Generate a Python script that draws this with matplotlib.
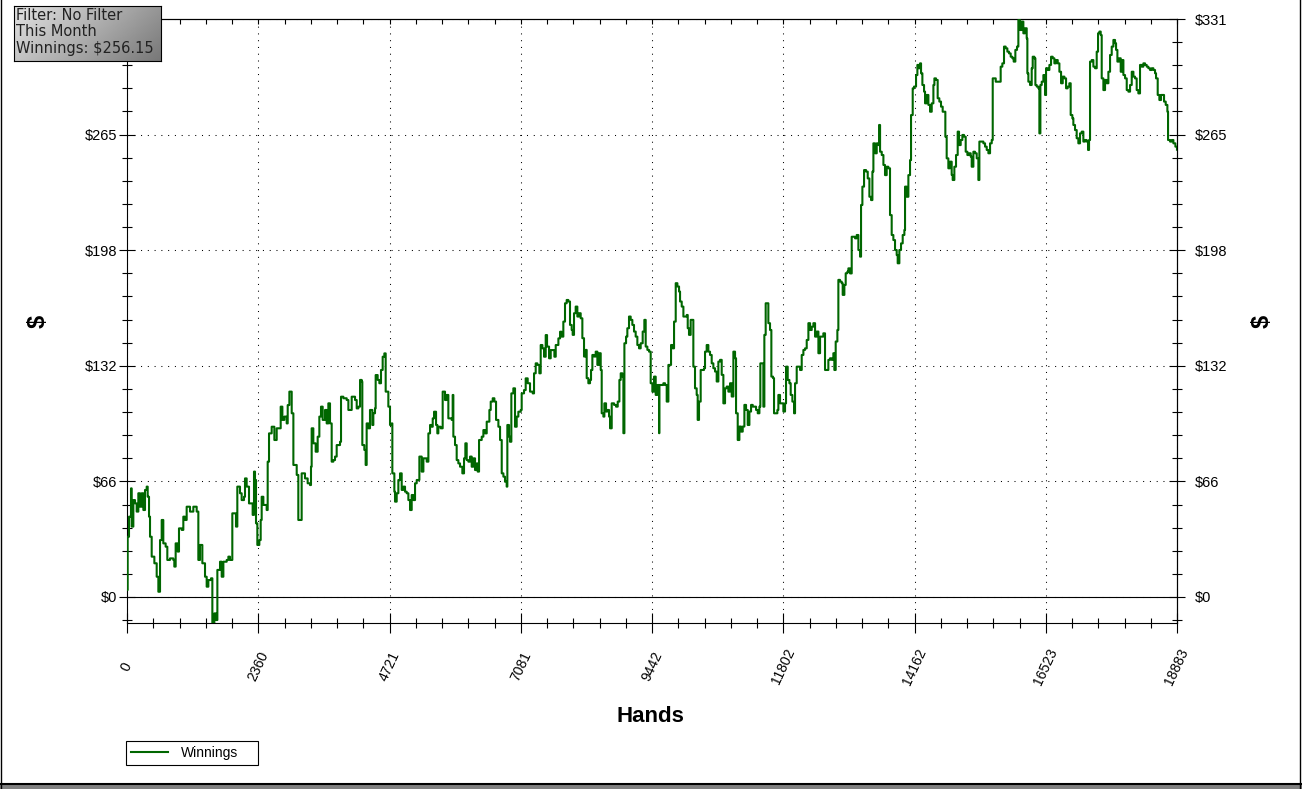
import numpy as np
import matplotlib
matplotlib.use('Agg')
import matplotlib.pyplot as plt
from matplotlib.lines import Line2D
from matplotlib.patches import Rectangle
from matplotlib.ticker import FixedLocator

plt.rcParams['font.family'] = ['Liberation Sans', 'DejaVu Sans']

# cumulative winnings (hand number, dollars)
hands = [0, 12, 36, 72, 84, 114, 144, 174, 204, 234, 264, 294, 324, 354, 372, 396, 414, 444, 492, 534,
         564, 594, 624, 653, 695, 725, 773, 833, 851, 875, 911, 935, 983, 1013, 1043, 1073, 1133, 1193, 1253, 1283,
         1313, 1355, 1403, 1433, 1463, 1511, 1535, 1571, 1601, 1625, 1673, 1703, 1733, 1793, 1823, 1852, 1882, 1894, 1942, 1960,
         1984, 2032, 2062, 2104, 2122, 2152, 2194, 2242, 2260, 2284, 2302, 2320, 2344, 2380, 2404, 2422, 2452, 2512, 2530, 2554,
         2602, 2650, 2692, 2734, 2764, 2794, 2830, 2872, 2890, 2920, 2962, 2992, 3052, 3081, 3111, 3141, 3201, 3249, 3291, 3309,
         3321, 3351, 3393, 3429, 3459, 3489, 3519, 3561, 3591, 3621, 3651, 3681, 3711, 3741, 3771, 3831, 3849, 3891, 3951, 3981,
         4011, 4041, 4101, 4131, 4161, 4191, 4221, 4232, 4268, 4292, 4310, 4340, 4370, 4412, 4430, 4460, 4472, 4508, 4538, 4568,
         4598, 4628, 4652, 4700, 4730, 4760, 4772, 4808, 4820, 4850, 4880, 4910, 4940, 4970, 5000, 5030, 5060, 5090, 5120, 5150,
         5180, 5210, 5258, 5300, 5330, 5390, 5420, 5450, 5480, 5498, 5522, 5558, 5581, 5599, 5641, 5677, 5719, 5749, 5779, 5839,
         5857, 5869, 5899, 5929, 5959, 5989, 6031, 6061, 6085, 6109, 6139, 6169, 6199, 6229, 6259, 6289, 6307, 6331, 6379, 6409,
         6439, 6469, 6517, 6541, 6577, 6607, 6637, 6679, 6709, 6739, 6769, 6798, 6828, 6840, 6870, 6888, 6912, 6948, 6978, 7008,
         7038, 7080, 7098, 7140, 7170, 7206, 7248, 7296, 7320, 7350, 7380, 7416, 7440, 7470, 7500, 7530, 7554, 7590, 7620, 7656,
         7686, 7710, 7758, 7788, 7817, 7847, 7877, 7907, 7937, 7967, 7997, 8015, 8039, 8069, 8099, 8129, 8159, 8189, 8219, 8249,
         8267, 8297, 8327, 8345, 8369, 8399, 8429, 8459, 8489, 8519, 8537, 8567, 8585, 8615, 8639, 8669, 8687, 8717, 8759, 8795,
         8825, 8855, 8879, 8909, 8927, 8945, 8975, 8998, 9028, 9058, 9088, 9118, 9148, 9178, 9208, 9238, 9274, 9304, 9328, 9358,
         9388, 9418, 9448, 9478, 9508, 9538, 9568, 9574, 9616, 9646, 9676, 9706, 9736, 9766, 9784, 9814, 9838, 9868, 9898, 9928,
         9946, 9976, 10006, 10036, 10066, 10084, 10107, 10137, 10167, 10185, 10215, 10245, 10263, 10287, 10317, 10347, 10377, 10395, 10425, 10455,
         10485, 10515, 10545, 10575, 10605, 10635, 10665, 10695, 10725, 10755, 10785, 10815, 10845, 10875, 10905, 10935, 10953, 10983, 11013, 11043,
         11073, 11103, 11133, 11163, 11193, 11223, 11253, 11283, 11313, 11343, 11373, 11390, 11414, 11444, 11462, 11486, 11510, 11534, 11564, 11588,
         11618, 11636, 11666, 11696, 11714, 11744, 11774, 11804, 11834, 11852, 11882, 11912, 11936, 11966, 11996, 12014, 12044, 12074, 12104, 12134,
         12164, 12194, 12224, 12254, 12284, 12314, 12344, 12374, 12404, 12434, 12464, 12494, 12523, 12553, 12583, 12613, 12643, 12673, 12703, 12721,
         12745, 12775, 12793, 12823, 12853, 12871, 12901, 12925, 12955, 12973, 13003, 13033, 13063, 13093, 13123, 13153, 13183, 13201, 13225, 13255,
         13291, 13321, 13351, 13381, 13405, 13423, 13453, 13483, 13513, 13525, 13543, 13573, 13603, 13632, 13662, 13692, 13722, 13752, 13782, 13812,
         13842, 13860, 13890, 13920, 13950, 13980, 13992, 14022, 14052, 14082, 14100, 14130, 14154, 14190, 14214, 14238, 14262, 14280, 14304, 14334,
         14352, 14382, 14412, 14442, 14472, 14502, 14520, 14549, 14579, 14609, 14639, 14669, 14699, 14717, 14741, 14771, 14801, 14831, 14849, 14879,
         14909, 14939, 14963, 14993, 15023, 15053, 15083, 15113, 15143, 15173, 15191, 15221, 15251, 15281, 15311, 15329, 15371, 15401, 15431, 15461,
         15491, 15521, 15551, 15569, 15599, 15623, 15653, 15683, 15712, 15742, 15772, 15802, 15832, 15862, 15892, 15922, 15946, 15976, 16006, 16030,
         16060, 16090, 16120, 16150, 16180, 16192, 16210, 16240, 16270, 16288, 16318, 16336, 16360, 16390, 16408, 16426, 16450, 16480, 16510, 16528,
         16558, 16588, 16618, 16648, 16678, 16708, 16738, 16768, 16798, 16828, 16858, 16888, 16917, 16947, 16971, 17001, 17019, 17049, 17079, 17109,
         17139, 17169, 17199, 17229, 17259, 17283, 17301, 17319, 17349, 17379, 17409, 17439, 17463, 17487, 17511, 17529, 17559, 17589, 17619, 17649,
         17679, 17709, 17739, 17769, 17787, 17811, 17841, 17871, 17901, 17919, 17949, 17979, 18009, 18039, 18069, 18099, 18128, 18158, 18188, 18218,
         18248, 18278, 18308, 18338, 18368, 18398, 18428, 18458, 18488, 18506, 18536, 18566, 18596, 18626, 18650, 18680, 18710, 18722, 18758, 18788,
         18818, 18854, 18883]

winnings = [4.0, 34.5, 46.0, 62.2, 40.3, 55.5, 53.6, 48.9, 59.4, 51.7, 59.4, 49.8, 61.3, 63.2, 57.4, 46.0, 34.5, 23.1, 19.3, 11.6,
            3.0, 32.6, 44.1, 30.7, 28.8, 21.2, 22.1, 21.2, 17.4, 30.7, 26.0, 39.3, 38.4, 46.0, 44.1, 51.7, 48.9, 51.7, 48.9, 21.2,
            29.8, 19.3, 11.6, 5.9, 9.7, 10.7, -15.1, -9.4, -13.2, 15.5, 20.2, 11.6, 20.2, 21.2, 23.1, 21.2, 21.2, 47.9, 47.9, 40.3,
            63.2, 59.4, 55.5, 57.4, 67.9, 63.2, 53.6, 53.6, 47.0, 71.8, 67.0, 42.2, 29.8, 32.6, 44.1, 57.4, 52.7, 49.8, 77.5, 93.7,
            97.5, 89.9, 96.6, 96.6, 109.0, 101.4, 103.3, 99.4, 109.9, 117.6, 105.2, 75.6, 69.9, 44.1, 44.1, 70.8, 67.9, 65.1, 64.1, 74.6,
            96.6, 88.0, 83.2, 91.8, 103.3, 109.0, 101.4, 107.1, 99.4, 110.9, 99.4, 77.5, 78.4, 80.4, 87.0, 88.9, 114.7, 113.8, 112.8, 107.1,
            107.1, 114.7, 112.8, 108.0, 109.0, 124.3, 123.3, 87.0, 84.2, 75.6, 99.4, 96.6, 107.1, 98.5, 105.2, 108.0, 127.1, 124.3, 122.4, 130.0,
            137.6, 139.5, 117.6, 109.0, 98.5, 99.4, 70.8, 60.3, 54.6, 59.4, 67.0, 70.8, 61.3, 63.2, 60.3, 59.4, 55.5, 49.8, 58.4, 55.5,
            65.1, 67.0, 80.4, 71.8, 79.4, 77.5, 93.7, 98.5, 97.5, 102.3, 106.1, 98.5, 93.7, 97.5, 96.6, 117.6, 112.8, 115.7, 102.3, 101.4,
            115.7, 91.8, 87.0, 78.4, 76.5, 74.6, 70.8, 79.4, 88.0, 78.4, 77.5, 80.4, 74.6, 79.4, 72.7, 76.5, 71.8, 89.9, 91.8, 95.6,
            93.7, 100.4, 107.1, 111.9, 113.8, 111.9, 101.4, 97.5, 89.9, 70.8, 68.9, 66.0, 63.2, 98.5, 91.8, 88.9, 116.6, 119.5, 97.5, 103.3,
            106.1, 107.1, 116.6, 118.5, 125.2, 122.4, 117.6, 116.6, 128.1, 133.8, 132.9, 128.1, 144.3, 142.4, 137.6, 150.0, 143.4, 136.7, 141.4, 141.4,
            137.6, 144.3, 148.1, 151.9, 149.1, 157.7, 168.2, 170.1, 169.2, 155.8, 152.9, 150.1, 162.5, 166.3, 160.6, 162.5, 159.6, 148.2, 137.7, 141.5,
            125.3, 122.4, 124.3, 130.0, 138.6, 137.7, 140.5, 132.9, 139.6, 130.0, 105.2, 103.3, 110.9, 106.2, 107.1, 103.3, 96.6, 110.9, 110.0, 109.0,
            111.9, 124.3, 128.1, 126.2, 93.8, 145.3, 149.1, 153.9, 160.6, 158.7, 155.8, 152.0, 149.1, 144.3, 142.4, 145.3, 152.0, 158.7, 143.4, 141.5,
            140.5, 122.4, 117.6, 126.2, 115.7, 121.4, 93.8, 121.4, 121.4, 122.4, 121.4, 111.9, 132.9, 132.9, 144.3, 142.4, 157.7, 179.7, 177.8, 174.9,
            169.2, 166.3, 160.6, 160.6, 161.5, 153.9, 150.1, 158.7, 158.7, 131.9, 119.5, 115.7, 101.4, 111.9, 130.0, 130.0, 131.0, 140.5, 144.3, 140.5,
            138.6, 133.8, 131.0, 129.1, 123.4, 134.8, 135.8, 127.2, 110.9, 119.5, 120.5, 117.6, 122.4, 114.8, 140.5, 136.7, 105.2, 89.9, 97.6, 94.7,
            97.6, 110.0, 107.1, 98.5, 106.2, 110.0, 109.0, 109.0, 107.1, 105.2, 109.0, 133.8, 133.8, 109.0, 150.1, 168.2, 168.2, 156.8, 152.9, 126.2,
            125.3, 105.2, 105.2, 107.1, 115.7, 110.9, 110.9, 106.2, 110.9, 131.9, 124.3, 122.4, 115.7, 111.9, 105.2, 122.4, 131.9, 131.9, 130.0, 138.6,
            141.5, 142.4, 147.2, 156.8, 152.9, 154.8, 156.8, 149.1, 152.0, 139.6, 149.1, 149.1, 151.0, 130.0, 130.0, 135.8, 136.7, 135.8, 139.6, 130.0,
            146.3, 152.9, 181.6, 180.6, 179.7, 173.0, 178.7, 185.4, 186.3, 188.2, 185.3, 206.3, 206.3, 205.4, 207.3, 198.7, 194.9, 224.5, 235.0, 244.5,
            243.6, 239.7, 229.2, 227.3, 243.6, 259.8, 254.1, 259.8, 258.8, 270.3, 255.0, 253.1, 247.4, 241.6, 246.4, 245.5, 218.7, 207.3, 204.4, 198.7,
            195.8, 191.1, 198.7, 202.5, 207.3, 210.2, 235.0, 229.2, 241.6, 250.2, 276.0, 291.3, 292.3, 298.9, 304.7, 302.8, 305.6, 299.9, 293.2, 289.4,
            282.7, 287.5, 281.8, 277.9, 282.7, 293.2, 297.0, 296.1, 285.6, 283.7, 280.8, 277.9, 277.9, 263.6, 251.2, 245.5, 249.3, 241.7, 238.8, 246.4,
            253.1, 266.5, 258.8, 261.7, 264.6, 263.6, 255.0, 253.1, 254.1, 252.2, 246.4, 255.0, 254.1, 251.2, 238.8, 260.8, 260.8, 259.8, 257.9, 256.0,
            254.1, 259.8, 261.7, 297.0, 297.0, 295.1, 295.1, 295.1, 303.7, 305.6, 315.2, 314.2, 312.3, 311.3, 309.4, 308.5, 306.6, 313.3, 315.2, 330.4,
            324.7, 329.5, 322.8, 325.7, 319.9, 299.9, 295.1, 293.2, 302.8, 309.4, 308.5, 293.2, 292.3, 291.3, 265.5, 293.2, 295.1, 298.9, 287.5, 302.8,
            301.8, 304.7, 309.4, 308.5, 305.6, 307.5, 305.6, 300.8, 294.2, 298.0, 297.0, 291.3, 292.3, 294.2, 276.0, 274.1, 270.3, 267.4, 262.7, 259.8,
            265.5, 266.5, 260.8, 261.7, 260.8, 256.0, 261.7, 306.6, 307.5, 303.7, 302.8, 312.3, 322.8, 323.8, 321.8, 297.0, 290.3, 296.1, 294.2, 300.8,
            310.4, 315.2, 319.0, 317.1, 313.3, 306.6, 308.5, 300.8, 307.5, 298.9, 297.0, 290.3, 289.4, 293.2, 300.8, 298.0, 297.0, 290.3, 288.4, 304.7,
            303.7, 305.6, 304.7, 303.7, 302.8, 301.8, 302.8, 301.8, 299.9, 297.0, 287.5, 284.6, 287.5, 287.5, 283.7, 281.8, 277.9, 261.7, 260.8, 261.7,
            259.8, 257.9, 256.15]

total_hands = 18883
x_labels = ['0', '2360', '4721', '7081', '9442', '11802', '14162', '16523', '18883']
y_top = 331
y_labels = ['$0', '$66', '$132', '$198', '$265', '$331']
info_lines = ['Filter: No Filter', 'This Month', 'Winnings: $256.15']

W, H = 1302, 789
fig = plt.figure(figsize=(W / 100, H / 100), dpi=100)
ax = fig.add_axes([127 / W, 1 - 623 / H, 1050 / W, 604 / H])
ax.set_xlim(0, total_hands)
ax.set_ylim(-14.9, y_top)

line, = ax.plot(hands, winnings, color='#006600', lw=1.5, drawstyle='steps-post', zorder=3)
ax.axhline(0, color='black', lw=0.8, zorder=2)

xt = np.linspace(0, total_hands, len(x_labels))
xt_minor = np.linspace(0, total_hands, 5 * (len(x_labels) - 1) + 1)
yt = np.linspace(0, y_top, len(y_labels))
yt_minor = np.arange(-1, 26) * (y_top / 25)

ax.xaxis.set_major_locator(FixedLocator(xt))
ax.xaxis.set_minor_locator(FixedLocator(xt_minor))
ax.set_xticklabels(x_labels, rotation=65, ha='center', va='center', fontsize=10)
ax.yaxis.set_major_locator(FixedLocator(yt))
ax.yaxis.set_minor_locator(FixedLocator(yt_minor))
# the top-left label sits under the info box, so it is left blank
ax.set_yticklabels(y_labels[:-1] + [''], fontsize=10.5)

ax.tick_params(axis='x', which='major', direction='inout', length=14.4, width=0.8, pad=24)
ax.tick_params(axis='x', which='minor', direction='inout', length=7.2, width=0.8)
ax.tick_params(axis='y', which='major', direction='inout', length=12.2, width=0.8, pad=1)
ax.tick_params(axis='y', which='minor', direction='inout', length=7.2, width=0.8)
for s in ax.spines.values():
    s.set_linewidth(0.8)

ax.grid(True, which='major', color='black', lw=0.75, linestyle=(0, (1, 5.5)), zorder=1)

# top ticks (inward only) and right labels
secx = ax.secondary_xaxis('top')
secx.xaxis.set_major_locator(FixedLocator(xt))
secx.xaxis.set_minor_locator(FixedLocator(xt_minor))
secx.tick_params(which='both', direction='in', length=3.6, width=0.8, labeltop=False)
secx.spines['top'].set_linewidth(0.8)

secy = ax.secondary_yaxis('right')
secy.yaxis.set_major_locator(FixedLocator(yt))
secy.yaxis.set_minor_locator(FixedLocator(yt_minor))
secy.set_yticklabels(y_labels, fontsize=10.5)
secy.tick_params(which='major', direction='inout', length=12.2, width=0.8, pad=7)
secy.tick_params(which='minor', direction='inout', length=7.2, width=0.8)
secy.spines['right'].set_linewidth(0.8)

fig.text(650 / W, 1 - 717 / H, 'Hands', fontsize=16, fontweight='bold', ha='center', va='center')
fig.text(38 / W, 1 - 321 / H, '$', fontsize=17, fontweight='bold', rotation=90, ha='center', va='center')
fig.text(1262 / W, 1 - 321 / H, '$', fontsize=17, fontweight='bold', rotation=90, ha='center', va='center')

leg = fig.legend([line], ['Winnings'], loc='lower left', mode='expand',
                 bbox_to_anchor=(126 / W, 1 - 765 / H, 132 / W, 24 / H),
                 fancybox=False, edgecolor='black', framealpha=1, fontsize=10, handlelength=2.7,
                 handletextpad=0.9, borderpad=0.35, borderaxespad=0)
leg.get_frame().set_linewidth(0.8)

# info box with gray gradient
bx = fig.add_axes([14 / W, 1 - 61 / H, 147 / W, 55 / H])
gx, gy = np.meshgrid(np.linspace(0, 1, 150), np.linspace(0, 1, 55))
grad = 0.89 - 0.30 * gx - 0.12 * gy
bx.imshow(grad, cmap='gray', vmin=0, vmax=1, aspect='auto', extent=[0, 1, 1, 0])
bx.set_xticks([])
bx.set_yticks([])
for s in bx.spines.values():
    s.set_linewidth(0.8)
for i, t in enumerate(info_lines):
    bx.text(2 / 147, 1 - (9 + 17 * i) / 55, t, fontsize=10.5, family='DejaVu Sans', color='#222222',
            ha='left', va='center', transform=bx.transAxes)

# outer window frame
fig.add_artist(Line2D([1 / W, 1 / W], [0, 1], transform=fig.transFigure, color='black', lw=1))
fig.add_artist(Line2D([1299.5 / W, 1299.5 / W], [0, 1], transform=fig.transFigure, color='black', lw=1))
fig.add_artist(Rectangle((0, 0), 1, 4 / H, transform=fig.transFigure, color='#808080'))
fig.add_artist(Line2D([0, 1], [5 / H, 5 / H], transform=fig.transFigure, color='black', lw=1.5))

fig.savefig('out.png', dpi=100)
